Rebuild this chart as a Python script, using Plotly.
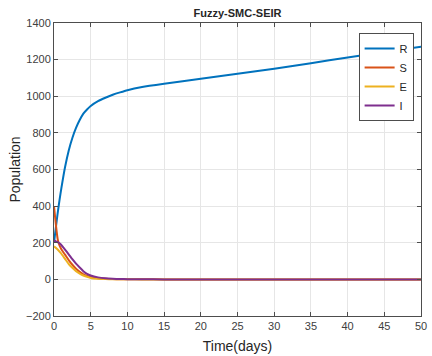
import plotly.graph_objects as go

t = [0, 0.25, 0.5, 0.75, 1, 1.5, 2, 2.5, 3, 3.5, 4, 4.5, 5, 6, 7, 8, 9, 10, 12, 15, 20, 25, 30, 35, 40, 45, 50]
R = [200, 283, 362, 433, 497, 612, 703, 772, 827, 870, 905, 928, 947, 973, 992, 1008, 1021, 1033, 1050, 1068, 1095, 1123, 1150, 1180, 1212, 1242, 1270]
S = [400, 300, 220, 185, 165, 135, 105, 80, 58, 42, 28, 19, 13, 6, 3, 1.5, 1, 0.5, 0.2, 0, 0, 0, 0, 0, 0, 0, 0]
E = [180, 172, 163, 152, 140, 112, 84, 63, 45, 32, 21, 14, 8, 3.5, 1.5, 0.7, 0.3, 0.1, 0, 0, 0, 0, 0, 0, 0, 0, 0]
I = [213, 208, 203, 197, 188, 163, 137, 110, 86, 65, 45, 30, 21, 11, 6, 3.5, 2, 1.2, 0.5, 0, 0, 0, 0, 0, 0, 0, 0]

series = [("R", R, "#0072BD"), ("S", S, "#D95319"), ("E", E, "#EDB120"), ("I", I, "#7E2F8E")]
x_ticks = list(range(0, 51, 5))
y_ticks = list(range(-200, 1401, 200))

FONT = "Liberation Sans, Arial"

fig = go.Figure()
for name, vals, col in series:
    fig.add_trace(go.Scatter(x=t, y=vals, mode="lines", name=name,
                             line=dict(color=col, width=2, shape="spline", smoothing=0.5)))

axis_common = dict(showline=True, linecolor="#4d4d4d", linewidth=1, mirror="ticks",
                   ticks="inside", ticklen=4, tickcolor="#4d4d4d",
                   showgrid=True, gridcolor="#e6e6e6", gridwidth=1, zeroline=False,
                   ticklabeloverflow="allow",
                   tickfont=dict(family=FONT, size=11, color="#404040"))

fig.update_layout(
    width=432, height=356,
    paper_bgcolor="white", plot_bgcolor="white",
    margin=dict(l=54, r=5, t=23, b=38),
    title=dict(text="<b>Fuzzy-SMC-SEIR</b>", x=0.5, xanchor="center", xref="paper",
               y=0.962, yanchor="middle",
               font=dict(family=FONT, size=11, color="#262626")),
    xaxis=dict(range=[0, 50], tickvals=x_ticks, **axis_common,
               title=dict(text="Time(days)", standoff=9,
                          font=dict(family=FONT, size=14, color="#262626"))),
    yaxis=dict(range=[-200, 1400], tickvals=y_ticks, **axis_common,
               title=dict(text="Population", standoff=2,
                          font=dict(family=FONT, size=14, color="#262626"))),
    legend=dict(x=0.83, y=0.966, xanchor="left", yanchor="top",
                bgcolor="white", bordercolor="#4d4d4d", borderwidth=1,
                font=dict(family=FONT, size=11, color="#262626"),
                tracegroupgap=0, itemwidth=30),
    showlegend=True,
)

fig.write_html("out.html", config={"displayModeBar": False},
               post_script="document.body.style.margin='0';")
